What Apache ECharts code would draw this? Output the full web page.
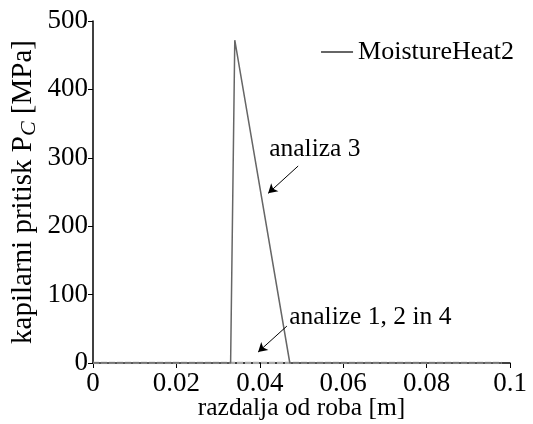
<!DOCTYPE html>
<html><head><meta charset="utf-8">
<script src="https://cdn.jsdelivr.net/npm/echarts@6/dist/echarts.min.js"></script>
<style>html,body{margin:0;padding:0;background:#fff}#c{width:533px;height:424px}</style>
</head><body><div id="c"></div>
<script>
const xMain = [0, 0.0330, 0.0340, 0.0472, 0.098];
const yMain = [0, 0, 472, 0, 0];
const xZero = [0, 0.098];
const yZero = [0, 0];
const xTicks = [0, 0.02, 0.04, 0.06, 0.08, 0.1];
const yTicks = [0, 100, 200, 300, 400, 500];
const notes = [
  {text: 'analiza 3', x: 0.0532, y: 312, ax0: 0.0492, ay0: 288, ax1: 0.0420, ay1: 248},
  {text: 'analize 1, 2 in 4', x: 0.0665, y: 67, ax0: 0.0465, ay0: 54, ax1: 0.0396, ay1: 16}
];
const F = 'Liberation Serif, Times New Roman, serif';
const chart = echarts.init(document.getElementById('c'));
chart.setOption({
  animation: false,
  textStyle: {fontFamily: F},
  grid: {left: 93, right: 23, top: 21, bottom: 61, containLabel: false, outerBoundsMode: 'none'},
  legend: {
    data: ['MoistureHeat2'], right: 14, top: 34, itemWidth: 32, itemHeight: 2, itemGap: 7,
    icon: 'rect',
    textStyle: {fontFamily: F, fontSize: 26, color: '#000'}
  },
  xAxis: {
    type: 'value', min: 0, max: 0.1, interval: 0.02,
    name: 'razdalja od roba [m]', nameLocation: 'middle', nameGap: 32, nameMoveOverlap: false,
    nameTextStyle: {fontFamily: F, fontSize: 25.5, color: '#000'},
    axisLine: {show: true, lineStyle: {color: '#000', width: 1.5}},
    axisTick: {show: true, inside: false, length: 5, lineStyle: {color: '#000'}},
    axisLabel: {fontFamily: F, fontSize: 27, color: '#000', margin: 7,
      formatter: v => xTicks.includes(+v.toFixed(2)) ? String(+v.toFixed(2)) : ''},
    splitLine: {show: false}
  },
  yAxis: {
    type: 'value', min: 0, max: 500, interval: 100,
    name: '{a|kapilarni pritisk P}{s|C}{a| [MPa]}', nameLocation: 'middle', nameGap: 53, nameRotate: 90, nameMoveOverlap: false,
    nameTextStyle: {fontFamily: F, fontSize: 29, color: '#000',
      rich: {a: {fontFamily: F, fontSize: 29, color: '#000'},
             s: {fontFamily: F, fontSize: 22, fontStyle: 'italic', color: '#000', verticalAlign: 'bottom', padding: [12,0,0,0]}}},
    axisLine: {show: true, lineStyle: {color: '#000', width: 1.5}},
    axisTick: {show: true, length: 5, lineStyle: {color: '#000'}},
    axisLabel: {fontFamily: F, fontSize: 27, color: '#000', margin: 5,
      formatter: v => yTicks.includes(v) ? String(v) : ''},
    splitLine: {show: false}
  },
  series: [
    {
      name: 'analize', type: 'line', showSymbol: false, silent: true,
      data: xZero.map((x, i) => [x, yZero[i]]),
      lineStyle: {color: '#aaa', width: 2.5, type: [6, 2]}, z: 1
    },
    {
      name: 'MoistureHeat2', type: 'line', showSymbol: false,
      data: xMain.map((x, i) => [x, yMain[i]]),
      itemStyle: {color: '#666'},
      lineStyle: {color: '#666', width: 1.5}, z: 2,
      markLine: {
        silent: true, symbol: ['none', 'arrow'], symbolSize: [8, 9],
        lineStyle: {color: '#000', width: 1, type: 'solid'},
        label: {show: false},
        data: notes.map(n => [{coord: [n.ax0, n.ay0]}, {coord: [n.ax1, n.ay1]}])
      },
      markPoint: {
        silent: true, symbol: 'circle', symbolSize: 0,
        label: {show: true, position: 'inside', fontFamily: F, fontSize: 25.5, color: '#000',
          formatter: p => p.name},
        data: notes.map(n => ({name: n.text, coord: [n.x, n.y]}))
      }
    }
  ]
});
</script></body></html>
